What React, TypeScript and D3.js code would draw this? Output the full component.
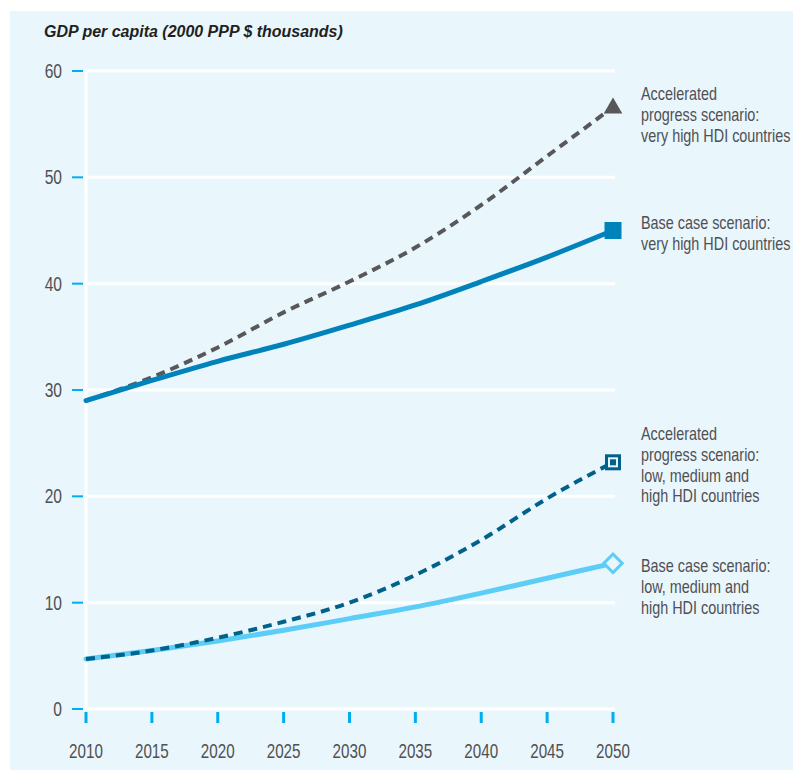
import React from "react";
import * as d3 from "d3";

const years = [2010, 2015, 2020, 2025, 2030, 2035, 2040, 2045, 2050];
const accelVeryHigh = [29.0, 31.2, 34.0, 37.3, 40.2, 43.4, 47.4, 52.0, 56.6];
const baseVeryHigh = [29.0, 30.9, 32.7, 34.3, 36.1, 38.0, 40.2, 42.5, 45.0];
const accelLow = [4.7, 5.5, 6.7, 8.2, 10.0, 12.6, 15.9, 19.8, 23.2];
const baseLow = [4.7, 5.5, 6.4, 7.4, 8.5, 9.6, 10.9, 12.3, 13.7];
const yTicks = [0, 10, 20, 30, 40, 50, 60];
const xTicks = [2010, 2015, 2020, 2025, 2030, 2035, 2040, 2045, 2050];
const title = "GDP per capita (2000 PPP $ thousands)";

const labelAccelVeryHigh = ["Accelerated", "progress scenario:", "very high HDI countries"];
const labelBaseVeryHigh = ["Base case scenario:", "very high HDI countries"];
const labelAccelLow = ["Accelerated", "progress scenario:", "low, medium and", "high HDI countries"];
const labelBaseLow = ["Base case scenario:", "low, medium and", "high HDI countries"];

const W = 793;
const H = 770;
const BG = "#e9f6fc";
const TICK = "#00aeef";
const C_BASE_VH = "#0082bb";
const C_ACC_VH = "#58585a";
const C_ACC_LOW = "#00618a";
const C_BASE_LOW = "#5ccdf6";
const TXT = "#505053";
const FONT = "'Liberation Sans', Arial, sans-serif";
const SX = 0.8;

function CText(props: {
  x: number;
  y: number;
  sx?: number;
  anchor?: string;
  size: number;
  fill: string;
  weight?: string;
  italic?: boolean;
  children: React.ReactNode;
}) {
  const { x, y, sx = SX, anchor = "start", size, fill, weight, italic, children } = props;
  return (
    <text
      transform={`translate(${x},${y}) scale(${sx},1)`}
      x={0}
      y={0}
      textAnchor={anchor}
      fontFamily={FONT}
      fontSize={size}
      fill={fill}
      fontWeight={weight}
      fontStyle={italic ? "italic" : undefined}
    >
      {children}
    </text>
  );
}

export default function App() {
  const x = d3.scaleLinear().domain([2010, 2050]).range([86, 613]);
  const y = d3.scaleLinear().domain([0, 60]).range([709, 71]);
  const line = d3
    .line<number>()
    .x((_, i) => x(years[i]))
    .y((d) => y(d))
    .curve(d3.curveMonotoneX);

  const xEnd = x(2050);
  const lx = 641;
  const lh = 20.8;

  const renderLabel = (lines: string[], baseline: number) => (
    <g>
      {lines.map((t, i) => (
        <CText key={i} x={lx} y={baseline + i * lh} size={18} fill={TXT}>
          {t}
        </CText>
      ))}
    </g>
  );

  const tri = d3.symbol().type(d3.symbolTriangle).size(150)();

  return (
    <svg
      width={W}
      height={H}
      style={{ position: "absolute", left: 0, top: 0, background: "#ffffff" }}
    >
      <rect x={10} y={11} width={W - 10} height={H - 11} fill={BG} />
      <CText x={44} y={37} sx={0.94} size={17} weight="bold" italic fill="#231f20">
        {title}
      </CText>

      {/* gridlines */}
      {yTicks.map((t) => (
        <line key={"g" + t} x1={x(2010)} x2={615} y1={y(t)} y2={y(t)} stroke="#ffffff" strokeWidth={3} />
      ))}
      <line x1={x(2010)} x2={x(2010)} y1={y(60) - 1.5} y2={y(0) + 1.5} stroke="#ffffff" strokeWidth={3} />

      {/* y ticks */}
      {yTicks.map((t) => (
        <g key={"yt" + t}>
          <line x1={72} x2={83} y1={y(t)} y2={y(t)} stroke={TICK} strokeWidth={2} />
          <CText x={62} y={y(t) + 7} anchor="end" size={19.5} fill={TXT}>
            {t}
          </CText>
        </g>
      ))}

      {/* x ticks */}
      {xTicks.map((t) => (
        <g key={"xt" + t}>
          <line x1={x(t)} x2={x(t)} y1={712} y2={723} stroke={TICK} strokeWidth={3} />
          <CText x={x(t)} y={758} anchor="middle" sx={0.76} size={20} fill={TXT}>
            {t}
          </CText>
        </g>
      ))}

      {/* lines */}
      <path d={line(baseLow) || ""} fill="none" stroke={C_BASE_LOW} strokeWidth={5} strokeLinecap="round" />
      <path
        d={line(accelLow) || ""}
        fill="none"
        stroke={C_ACC_LOW}
        strokeWidth={4}
        strokeDasharray="9 6"
      />
      <path
        d={line(accelVeryHigh) || ""}
        fill="none"
        stroke={C_ACC_VH}
        strokeWidth={4}
        strokeDasharray="9 6"
      />
      <path d={line(baseVeryHigh) || ""} fill="none" stroke={C_BASE_VH} strokeWidth={5} strokeLinecap="round" />

      {/* markers */}
      <path d={tri || ""} transform={`translate(${xEnd},${y(accelVeryHigh[8]) + 1})`} fill={C_ACC_VH} />
      <rect x={xEnd - 8.5} y={y(baseVeryHigh[8]) - 8.5} width={17} height={17} fill={C_BASE_VH} />
      <rect
        x={xEnd - 6.5}
        y={y(accelLow[8]) - 6.5}
        width={13}
        height={13}
        fill={BG}
        stroke={C_ACC_LOW}
        strokeWidth={3}
      />
      <rect x={xEnd - 3} y={y(accelLow[8]) - 3} width={6} height={6} fill={C_ACC_LOW} />
      <rect
        x={xEnd - 6.5}
        y={y(baseLow[8]) - 6.5}
        width={13}
        height={13}
        fill={BG}
        stroke={C_BASE_LOW}
        strokeWidth={3}
        transform={`rotate(45 ${xEnd} ${y(baseLow[8])})`}
      />

      {/* annotations */}
      {renderLabel(labelAccelVeryHigh, 100)}
      {renderLabel(labelBaseVeryHigh, 229)}
      {renderLabel(labelAccelLow, 440)}
      {renderLabel(labelBaseLow, 572)}
    </svg>
  );
}
